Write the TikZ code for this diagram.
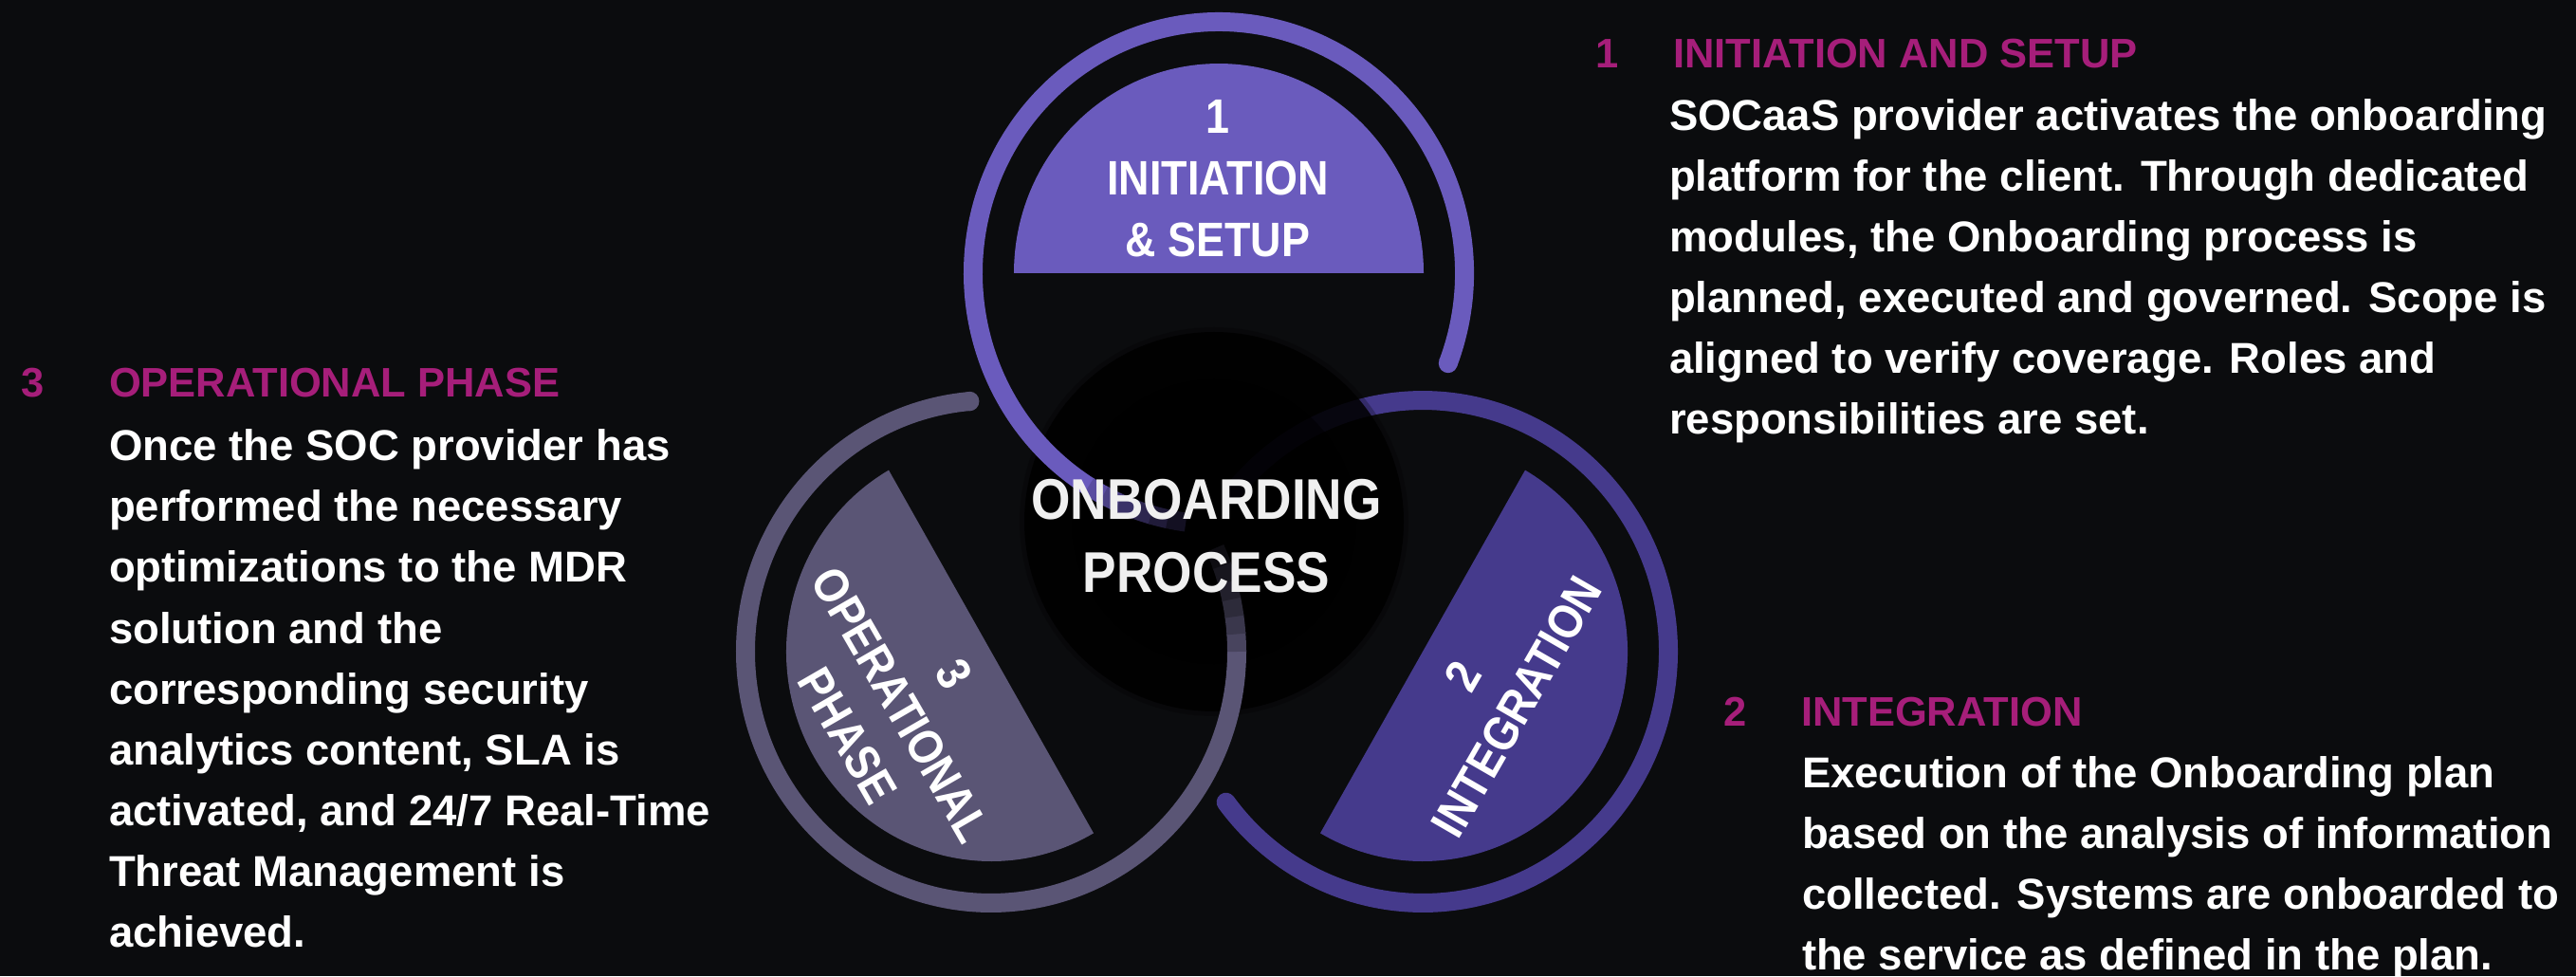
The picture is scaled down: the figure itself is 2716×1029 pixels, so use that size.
\documentclass[tikz,border=0pt]{standalone}
\usepackage{fontspec}
\newfontfamily\lsb{Liberation Sans Bold}
\newfontfamily\lsbn{Liberation Sans Bold}[FakeStretch=0.88]
\definecolor{bg}{RGB}{11,12,14}
\definecolor{ringA}{RGB}{106,91,189}
\definecolor{ringB}{RGB}{69,58,140}
\definecolor{ringC}{RGB}{90,85,117}
\definecolor{headmag}{RGB}{166,30,122}
\definecolor{centertxt}{RGB}{240,240,240}
\tikzset{
  ringline/.style={line width=20pt},
  bodytxt/.style={font={\lsb\fontsize{45.5}{64}\selectfont}, text=white, anchor=base west, inner sep=0pt, outer sep=0pt},
  headtxt/.style={font={\lsb\fontsize{43.5}{64}\selectfont}, text=headmag, anchor=base west, inner sep=0pt, outer sep=0pt},
  segtxt/.style={font={\lsbn\fontsize{51}{65}\selectfont}, text=white, align=center, inner sep=0pt},
  coretxt/.style={font={\lsbn\fontsize{60.5}{77}\selectfont}, text=centertxt, align=center, inner sep=0pt},
}
\begin{document}
\begin{tikzpicture}[x=1pt,y=1pt]
\useasboundingbox (0,0) rectangle (2716,1029);
\fill[bg] (0,0) rectangle (2716,1029);
\coordinate (cA) at (1285,741);
\coordinate (cB) at (1500,342);
\coordinate (cC) at (1045,342);
\coordinate (core) at (1280,479);

% ring B and its half disk (below the core)
\begin{scope}[shift={(cB)}, yscale=1.023]
  \draw[ringline, ringB, line cap=round] (216.8:259) arc[start angle=216.8, end angle=500, radius=259];
  \fill[ringB] (60:216) arc[start angle=60, end angle=-120, radius=216] -- cycle;
\end{scope}
% half disks A and C
\begin{scope}[shift={(cA)}, yscale=1.023]
  \fill[ringA] (0:216) arc[start angle=0, end angle=180, radius=216] -- cycle;
\end{scope}
\begin{scope}[shift={(cC)}, yscale=1.023]
  \fill[ringC] (120:216) arc[start angle=120, end angle=300, radius=216] -- cycle;
\end{scope}

% dark core
\fill[black, opacity=0.25] (core) circle (205);
\fill[black, opacity=0.85] (core) circle (200);
\fill[black, opacity=0.5] (core) circle (150);

% ring A
\begin{scope}[shift={(cA)}, yscale=1.023]
  \draw[ringline, ringA] (-21:259) arc[start angle=-21, end angle=238.3, radius=259];
  \fill[ringA] (-21:259) circle (10);
  \foreach \a/\p in {238/85, 242/70, 246/55, 250/42, 254/30, 258/18}
    \draw[ringline, ringA!\p!black] (\a:259) arc[start angle=\a, end angle=\a+4.3, radius=259];
\end{scope}
% ring C
\begin{scope}[shift={(cC)}, yscale=1.023]
  \draw[ringline, ringC] (95:259) arc[start angle=95, end angle=360.3, radius=259];
  \fill[ringC] (95:259) circle (10);
  \foreach \a/\p in {360/80, 364/65, 368/50, 372/38, 376/26, 380/15}
    \draw[ringline, ringC!\p!black] (\a:259) arc[start angle=\a, end angle=\a+4.3, radius=259];
\end{scope}

% labels in the half disks
\node[segtxt] (labA) at (1284,841) {1\\INITIATION\\\& SETUP};
\node[segtxt, rotate=60] (labB) at (1571,300) {2\\INTEGRATION};
\node[segtxt, rotate=-60] (labC) at (950,286) {3\\OPERATIONAL\\PHASE};
\node[coretxt] (corelabel) at (1272,464) {ONBOARDING\\PROCESS};

% left column
\node[headtxt] (numC) at (22,610) {3};
\node[headtxt] (headC) at (115,610) {OPERATIONAL PHASE};
\foreach \t [count=\i from 0] in {{Once the SOC provider has},{performed the necessary},{optimizations to the MDR},{solution and the},{corresponding security},{analytics content, SLA is},{activated, and 24/7 Real-Time},{Threat Management is},{achieved.}}
  \node[bodytxt] (bodyC\i) at (115,543-64*\i) {\t};

% right top column
\node[headtxt] (numA) at (1682,957) {1};
\node[headtxt] (headA) at (1764,957) {INITIATION AND SETUP};
\foreach \t [count=\i from 0] in {{SOCaaS provider activates the onboarding},{platform for the client. Through dedicated},{modules, the Onboarding process is},{planned, executed and governed. Scope is},{aligned to verify coverage. Roles and},{responsibilities are set.}}
  \node[bodytxt] (bodyA\i) at (1760,891-64*\i) {\t};

% right bottom column
\node[headtxt] (numB) at (1817,264) {2};
\node[headtxt] (headB) at (1899,264) {INTEGRATION};
\foreach \t [count=\i from 0] in {{Execution of the Onboarding plan},{based on the analysis of information},{collected. Systems are onboarded to},{the service as defined in the plan.}}
  \node[bodytxt] (bodyB\i) at (1900,199-64*\i) {\t};
\end{tikzpicture}
\end{document}
